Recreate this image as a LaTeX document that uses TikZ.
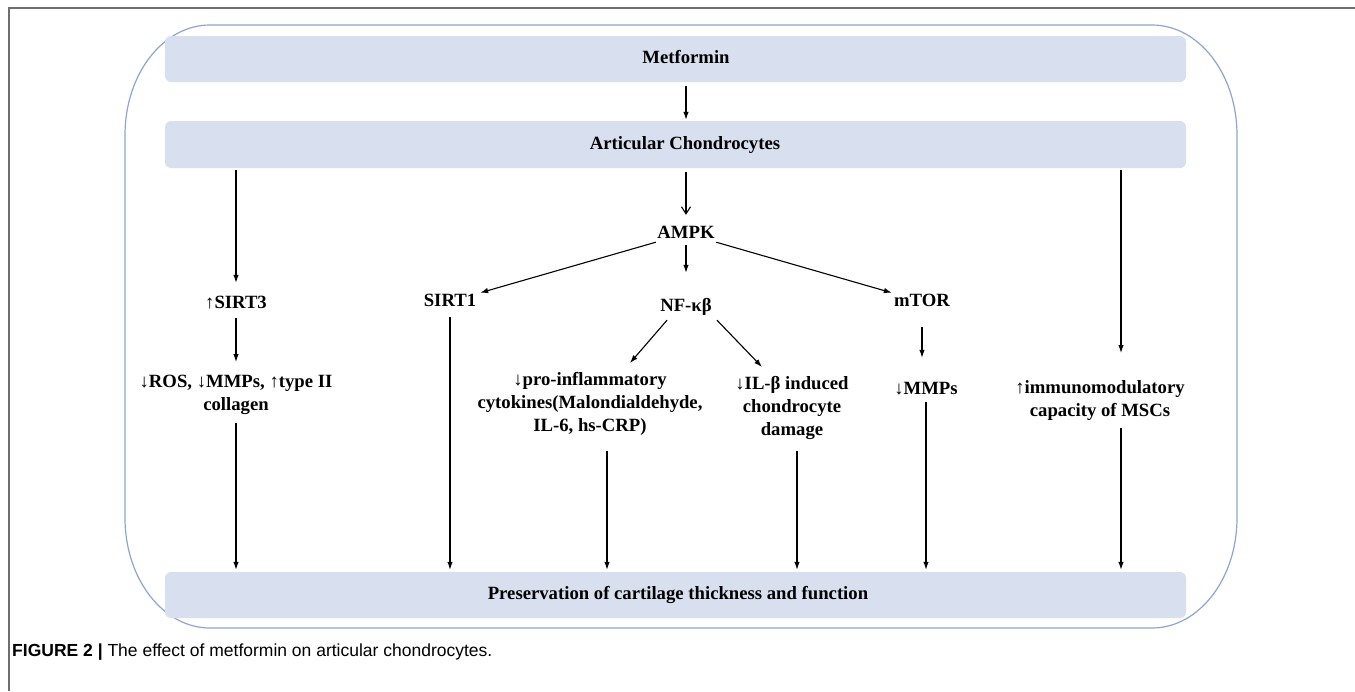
\documentclass[tikz,border=0pt]{standalone}
\usepackage{fontspec}
\setmainfont{Liberation Serif}
\newfontfamily\capfont{Liberation Sans}
\usetikzlibrary{arrows.meta,calc}
\definecolor{bandfill}{RGB}{216,224,239}
\definecolor{boxline}{RGB}{140,165,210}
\definecolor{frameline}{RGB}{110,110,110}
\begin{document}
\begin{tikzpicture}[x=1pt,y=-1pt,
  txt/.style={font=\fontsize{18.7}{23}\selectfont\bfseries, inner ysep=0pt, inner xsep=5pt, text height=13pt, text depth=4pt},
  mtxt/.style={font=\fontsize{18.7}{23}\selectfont\bfseries, inner sep=0pt, align=center, anchor=north},
  band/.style={fill=bandfill, draw=none, rounded corners=6pt, minimum width=1021pt, minimum height=46pt, inner sep=0pt},
  arr/.style={line width=1.1pt, -{Latex[length=8pt,width=5.5pt]}},
  oarr/.style={line width=1.1pt, -{Straight Barb[length=7pt,width=9pt]}}]
\useasboundingbox (0,0) rectangle (1355,691);
\fill[white] (0,0) rectangle (1355,691);
% page frame
\draw[frameline, line width=1.2pt] (1355,8) -- (9,8) -- (9,691);
% outer rounded box
\draw[boxline, line width=1.2pt] (210,25) -- (1152,25)
  .. controls (1198.9,25) and (1237,74.2) .. (1237,135) -- (1237,518)
  .. controls (1237,578.8) and (1198.9,628) .. (1152,628) -- (210,628)
  .. controls (163.1,628) and (125,578.8) .. (125,518) -- (125,135)
  .. controls (125,74.2) and (163.1,25) .. cycle;
% bands
\node[band] (metfband) at (675.5,59) {};
\node[band, minimum height=47pt] (articband) at (675.5,144.5) {};
\node[band] (presband) at (675.5,595) {};
% texts
\node[txt] (metf) at (686,58.5) {Metformin};
\node[txt] (artic) at (685,144.5) {Articular Chondrocytes};
\node[txt] (pres) at (678,594.5) {Preservation of cartilage thickness and function};
\node[txt] (ampk) at (686,233.5) {AMPK};
\node[txt] (sirt3) at (236,303.5) {↑SIRT3};
\node[txt] (sirt1) at (450,301.5) {SIRT1};
\node[txt] (nfkb) at (686,306.5) {NF-κβ};
\node[txt] (mtor) at (922,301.5) {mTOR};
\node[txt] (mmp) at (926,389.5) {↓MMPs};
\node[mtxt] (ros) at (236,375) {↓ROS, ↓MMPs, ↑type II\\collagen};
\node[mtxt] (pro) at (590,372) {↓pro-inflammatory\\cytokines(Malondialdehyde,\\IL-6, hs-CRP)};
\node[mtxt] (ilb) at (792,376) {↓IL-β induced\\chondrocyte\\damage};
\node[mtxt] (immuno) at (1100,380) {↑immunomodulatory\\capacity of MSCs};
% caption
\node[anchor=west, inner sep=0pt, font=\capfont\fontsize{17.5}{20}\selectfont] (cap) at (12,652)
  {\textbf{FIGURE 2 |} The effect of metformin on articular chondrocytes.};
% connectors
\draw[arr, shorten <=4pt, shorten >=1pt] (metfband.south -| metf) -- (articband.north -| metf);
\draw[arr, shorten <=2pt, shorten >=12pt] (articband.south -| sirt3) -- (sirt3.north);
\draw[oarr, shorten <=4pt, shorten >=10pt] (articband.south -| ampk) -- (ampk.north);
\draw[arr, shorten <=2pt, shorten >=27pt] ($(articband.south -| immuno.north)+(21,0)$) -- ($(immuno.north)+(21,0)$);
\draw[arr, shorten <=3pt, shorten >=25pt] (ampk.south) -- (nfkb.north);
\draw[arr] (ampk) -- (sirt1);
\draw[arr] (ampk) -- (mtor);
\draw[arr, shorten <=6pt, shorten >=13pt] (sirt3.south) -- (ros.north);
\draw[arr] ($(nfkb.south)+(-19,5)$) -- ($(pro.north)+(40,-9)$);
\draw[arr] ($(nfkb.south)+(31,5)$) -- ($(ilb.north)+(-30,-9)$);
\draw[arr, shorten <=17pt, shorten >=23pt] (mtor.south) -- (mtor.south |- mmp.north);
\draw[arr, shorten <=8pt, shorten >=2pt] (ros.south) -- (ros.south |- presband.north);
\draw[arr, shorten <=7pt, shorten >=2pt] (sirt1.south) -- (sirt1.south |- presband.north);
\draw[arr, shorten <=15pt, shorten >=2pt] ($(pro.south)+(17,0)$) -- ($(pro.south |- presband.north)+(17,0)$);
\draw[arr, shorten <=11pt, shorten >=2pt] ($(ilb.south)+(5,0)$) -- ($(ilb.south |- presband.north)+(5,0)$);
\draw[arr, shorten <=4pt, shorten >=2pt] (mmp.south) -- (mmp.south |- presband.north);
\draw[arr, shorten <=8pt, shorten >=2pt] ($(immuno.south)+(21,0)$) -- ($(immuno.south |- presband.north)+(21,0)$);
\end{tikzpicture}
\end{document}
